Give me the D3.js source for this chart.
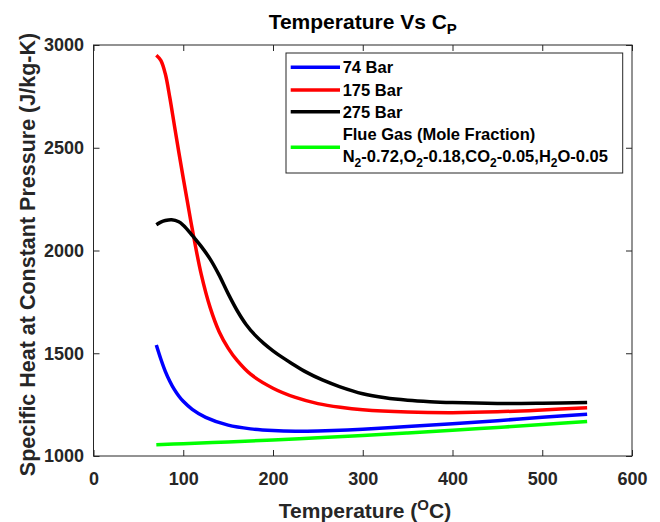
<!DOCTYPE html>
<html>
<head>
<meta charset="utf-8">
<script src="https://cdn.jsdelivr.net/npm/d3@7"></script>
<style>
  html, body { margin: 0; padding: 0; background: #fff; }
  svg { display: block; font-family: "Liberation Sans", Arial, Helvetica, sans-serif; font-weight: bold; }
</style>
</head>
<body>
<svg id="chart" width="660" height="522"></svg>
<script>
// Specific heat (J/kg-K) versus temperature (°C) for supercritical CO2 at three pressures and a flue gas mix
const temps74 = [70, 75, 80, 85, 90, 95, 100, 110, 125, 150, 175, 200, 225, 250, 275, 300, 350, 400, 450, 500, 550];
const cp74    = [1540, 1472, 1412, 1364, 1324, 1292, 1266, 1227, 1188, 1150, 1132, 1124, 1121, 1122, 1125, 1130, 1143, 1157, 1172, 1188, 1203];

const temps175 = [70, 75, 80, 85, 90, 95, 100, 105, 110, 120, 130, 140, 150, 160, 175, 200, 225, 250, 275, 300, 350, 400, 450, 500, 550];
const cp175    = [2950, 2925, 2860, 2745, 2612, 2480, 2352, 2228, 2105, 1885, 1722, 1605, 1525, 1465, 1398, 1330, 1285, 1255, 1237, 1225, 1214, 1211, 1215, 1224, 1235];

const temps275 = [70, 75, 80, 87, 95, 100, 110, 120, 130, 140, 150, 160, 170, 180, 190, 200, 210, 220, 237, 255, 274, 300, 325, 350, 375, 400, 450, 500, 550];
const cp275    = [2125, 2138, 2146, 2150, 2140, 2123, 2074, 2020, 1958, 1880, 1790, 1708, 1640, 1588, 1547, 1512, 1481, 1453, 1408, 1370, 1338, 1303, 1283, 1271, 1264, 1260, 1256, 1257, 1260];

const tempsFlue = [70, 100, 150, 200, 250, 300, 350, 400, 450, 500, 550];
const cpFlue    = [1055, 1060, 1068, 1078, 1089, 1100, 1112, 1125, 1139, 1153, 1168];

const xTicks = [0, 100, 200, 300, 400, 500, 600];
const yTicks = [1000, 1500, 2000, 2500, 3000];

const series = [
  { name: "74 Bar",  t: temps74,   cp: cp74,   color: "#0000ff" },
  { name: "175 Bar", t: temps175,  cp: cp175,  color: "#ff0000" },
  { name: "275 Bar", t: temps275,  cp: cp275,  color: "#000000" },
  { name: "Flue Gas", t: tempsFlue, cp: cpFlue, color: "#00ff00" }
];

const svg = d3.select("#chart");
const plotL = 93.5, plotR = 632, plotT = 45, plotB = 456;
const axisColor = "#262626";

const x = d3.scaleLinear().domain([0, 600]).range([plotL, plotR]);
const y = d3.scaleLinear().domain([1000, 3000]).range([plotB, plotT]);

// curves
const line = d3.line()
  .x(d => x(d[0]))
  .y(d => y(d[1]))
  .curve(d3.curveCatmullRom.alpha(0.5));

const curves = svg.append("g");
series.forEach(s => {
  curves.append("path")
    .datum(s.t.map((t, i) => [t, s.cp[i]]))
    .attr("d", line)
    .attr("fill", "none")
    .attr("stroke", s.color)
    .attr("stroke-width", 3.5)
    .attr("stroke-linejoin", "round");
});

// axes (ticks pointing inward, box on)
const tickLen = 6;
const styleAxis = g => {
  g.select(".domain").remove();
  g.selectAll("line").attr("stroke", axisColor).attr("stroke-width", 1);
  g.selectAll("text").attr("fill", axisColor).attr("font-size", 18).attr("font-weight", "bold")
    .attr("font-family", "Liberation Sans, Arial, sans-serif");
};

svg.append("g")
  .attr("transform", `translate(0,${plotB})`)
  .call(d3.axisBottom(x).tickValues(xTicks).tickFormat(d3.format("d")).tickSizeInner(-tickLen).tickSizeOuter(0).tickPadding(16))
  .call(styleAxis);

svg.append("g")
  .attr("transform", `translate(0,${plotT})`)
  .call(d3.axisTop(x).tickValues(xTicks).tickFormat("").tickSizeInner(-tickLen).tickSizeOuter(0))
  .call(styleAxis);

svg.append("g")
  .attr("transform", `translate(${plotL},0)`)
  .call(d3.axisLeft(y).tickValues(yTicks).tickFormat(d3.format("d")).tickSizeInner(-tickLen).tickSizeOuter(0).tickPadding(9.5))
  .call(styleAxis);

svg.append("g")
  .attr("transform", `translate(${plotR},0)`)
  .call(d3.axisRight(y).tickValues(yTicks).tickFormat("").tickSizeInner(-tickLen).tickSizeOuter(0))
  .call(styleAxis);

// frame
svg.append("rect")
  .attr("x", plotL).attr("y", plotT)
  .attr("width", plotR - plotL).attr("height", plotB - plotT)
  .attr("fill", "none").attr("stroke", axisColor).attr("stroke-width", 1);

// title
const title = svg.append("text")
  .attr("x", (plotL + plotR) / 2).attr("y", 29)
  .attr("text-anchor", "middle").attr("font-size", 21).attr("fill", "#000");
title.append("tspan").text("Temperature Vs C");
title.append("tspan").attr("dy", 5).attr("font-size", 15).text("P");

// x label
const xl = svg.append("text")
  .attr("x", 365).attr("y", 518)
  .attr("text-anchor", "middle").attr("font-size", 21).attr("fill", axisColor);
xl.append("tspan").text("Temperature (");
xl.append("tspan").attr("dy", -8).attr("font-size", 15).text("O");
xl.append("tspan").attr("dy", 8).text("C)");

// y label
svg.append("text")
  .attr("transform", `translate(35,${(plotT + plotB) / 2 + 4}) rotate(-90)`)
  .attr("text-anchor", "middle").attr("font-size", 21.5).attr("fill", axisColor)
  .text("Specific Heat at Constant Pressure (J/kg-K)");

// legend
const lg = svg.append("g");
lg.append("rect")
  .attr("x", 286).attr("y", 53).attr("width", 336.7).attr("height", 120)
  .attr("fill", "#fff").attr("stroke", axisColor).attr("stroke-width", 1);

const legendRows = [
  { lineY: 67.3, textY: 73.3 },
  { lineY: 90, textY: 96 },
  { lineY: 111.7, textY: 117.7 },
  { lineY: 147.3, textY: 140 }
];
series.forEach((s, i) => {
  const r = legendRows[i];
  lg.append("line")
    .attr("x1", 290.7).attr("x2", 340)
    .attr("y1", r.lineY).attr("y2", r.lineY)
    .attr("stroke", s.color).attr("stroke-width", 3.5);
  if (i < 3) {
    lg.append("text").attr("x", 342.7).attr("y", r.textY)
      .attr("font-size", 16.5).attr("fill", "#000").text(s.name);
  }
});

lg.append("text").attr("x", 342.7).attr("y", 140)
  .attr("font-size", 16.5).attr("fill", "#000").text("Flue Gas (Mole Fraction)");

// composition line with subscripts
const comp = lg.append("text").attr("x", 342.7).attr("y", 161.7)
  .attr("font-size", 16.5).attr("fill", "#000");
const parts = [
  ["N", "2", "-0.72,"],
  ["O", "2", "-0.18,"],
  ["CO", "2", "-0.05,"],
  ["H", "2", "O-0.05"]
];
parts.forEach(p => {
  comp.append("tspan").text(p[0]);
  comp.append("tspan").attr("dy", 5).attr("font-size", 12).text(p[1]);
  comp.append("tspan").attr("dy", -5).text(p[2]);
});
</script>
</body>
</html>
